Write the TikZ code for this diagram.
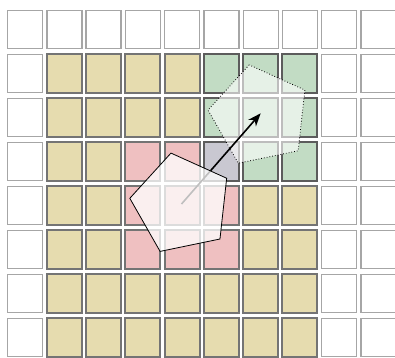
\documentclass[tikz,border=0pt]{standalone}
\usetikzlibrary{shapes.geometric,arrows.meta}
\definecolor{cw}{HTML}{FFFFFF} \definecolor{dw}{HTML}{A6A6A6}
\definecolor{ct}{HTML}{E6DCAF} \definecolor{dt}{HTML}{747474}
\definecolor{cg}{HTML}{C2DCC4} \definecolor{dg}{HTML}{5C5C5C}
\definecolor{cp}{HTML}{EFC0C1} \definecolor{dp}{HTML}{747474}
\definecolor{cv}{HTML}{C9C8D1} \definecolor{dv}{HTML}{5C5C5C}
\def\lww{1.3pt}\def\lwt{2pt}\def\lwg{2pt}\def\lwp{2pt}\def\lwv{2pt}
\begin{document}
\begin{tikzpicture}[x=1pt,y=-1pt,
  cell/.style={draw, minimum width=35pt, minimum height=38.5pt, inner sep=0pt, outer sep=0pt},
  pent/.style={regular polygon, regular polygon sides=5, minimum size=104pt, inner sep=0pt, outer sep=0pt, rotate=11.7}]
\useasboundingbox (0,0) rectangle (395,357);
\foreach \row [count=\j from 0] in {
  {w,w,w,w,w,w,w,w,w,w},
  {w,t,t,t,t,g,g,g,w,w},
  {w,t,t,t,t,g,g,g,w,w},
  {w,t,t,p,p,v,g,g,w,w},
  {w,t,t,p,p,p,t,t,w,w},
  {w,t,t,p,p,p,t,t,w,w},
  {w,t,t,t,t,t,t,t,w,w},
  {w,t,t,t,t,t,t,t,w,w}}{
  \foreach \c [count=\i from 0] in \row {
    \node[cell, fill=c\c, draw=d\c, line width=\csname lw\c\endcsname] (c-\i-\j) at ({25.1+39.26*\i},{29.4+44*\j}) {};
  }
}
\node[pent, draw=black, dotted, line width=0.8pt, fill=white, fill opacity=0.6] (p2) at (259.7,115.8) {};
\coordinate (p1c) at (181.5,204);
\draw[-{Stealth[length=13pt,width=10pt,inset=4pt]}, line width=1.6pt] (p1c) -- ([shift={(1,-2.5)}]p2.center);
\node[pent, draw=black, line width=0.8pt, fill=white, fill opacity=0.75] (p1) at (p1c) {};
\end{tikzpicture}
\end{document}
